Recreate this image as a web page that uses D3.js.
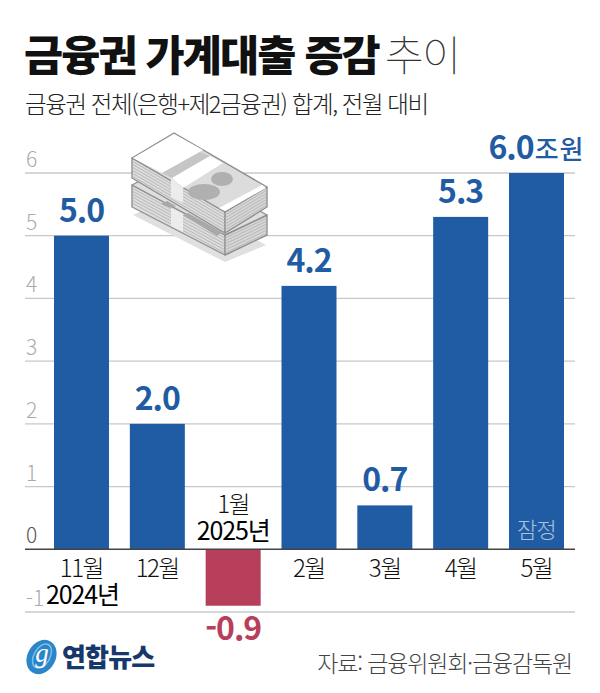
<!DOCTYPE html>
<html lang="ko">
<head>
<meta charset="utf-8">
<script src="https://cdn.jsdelivr.net/npm/d3@7"></script>
<style>
html, body { margin: 0; padding: 0; background: #fff; }
svg { display: block; }
text { font-family: "Noto Sans CJK KR", "Noto Sans", sans-serif; }
</style>
</head>
<body>
<svg id="chart" width="600" height="693"></svg>
<script>
const months = ['11월', '12월', '1월', '2월', '3월', '4월', '5월'];
const values = [5.0, 2.0, -0.9, 4.2, 0.7, 5.3, 6.0];
const valueLabels = ['5.0', '2.0', '-0.9', '4.2', '0.7', '5.3', '6.0'];
const tickValues = [-1, 0, 1, 2, 3, 4, 5, 6];

const blue = '#1f5ca3', red = '#b83f5c', grid = '#c8c8c8';
const svg = d3.select('#chart');

const x = d3.scaleBand().domain(months).range([54, 564]).paddingInner(0.2747).paddingOuter(0);
const y = d3.scaleLinear().domain([-1, 6]).range([612, 173]);
const xMid = d => x(d) + x.bandwidth() / 2;

// title
const title = svg.append('text').attr('x', 24).attr('y', 71)
    .attr('font-size', 42.5).attr('letter-spacing', -1.9);
title.append('tspan').attr('font-weight', 900).attr('fill', '#111').text('금융권 가계대출 증감');
title.append('tspan').attr('dx', 6).attr('font-weight', 100).attr('fill', '#333').text('추이');

svg.append('text').attr('x', 25).attr('y', 113)
    .attr('font-size', 23.5).attr('font-weight', 300).attr('letter-spacing', -1.42).attr('fill', '#222')
    .text('금융권 전체(은행+제2금융권) 합계, 전월 대비');

// grid
svg.append('g').selectAll('line').data(tickValues.filter(d => d !== 0)).join('line')
    .attr('x1', 25).attr('x2', 575)
    .attr('y1', d => y(d)).attr('y2', d => y(d))
    .attr('stroke', grid).attr('stroke-width', 1.3);

svg.append('g').selectAll('text').data(tickValues).join('text')
    .attr('x', 26)
    .attr('y', d => y(d) - 6)
    .attr('font-size', 21).attr('font-weight', 300)
    .attr('fill', d => d === 0 ? '#555' : '#aaa')
    .text(d => d < 0 ? '-' + Math.abs(d) : d);

// money illustration
const money = svg.append('g');
const poly = (pts, fill, stroke) => money.append('polygon')
    .attr('points', pts.join(' ')).attr('fill', fill)
    .attr('stroke', stroke || 'none').attr('stroke-width', 1.4).attr('stroke-linejoin', 'round');
const edge = '#8f8f8f';
poly(['133,215', '174,196', '266,245', '225,262'], '#e0e0e0');
poly(['132,185', '225,235', '225,255', '132,207'], '#dcdcdc', edge);
poly(['225,235', '267,215', '267,235', '225,255'], '#d6d6d6', edge);
poly(['132,185', '174,163', '267,215', '225,235'], '#dedede', edge);
poly(['132,158', '225,212', '225,233', '132,178'], '#dcdcdc', edge);
poly(['225,212', '267,187', '267,207', '225,233'], '#d6d6d6', edge);
const lineGroup = money.append('g').attr('stroke', '#b0b0b0').attr('stroke-width', 0.8);
[3, 6, 9, 12, 15, 18].forEach(d => {
    lineGroup.append('line').attr('x1', 132).attr('y1', 158 + d).attr('x2', 225).attr('y2', 212 + d);
    lineGroup.append('line').attr('x1', 225).attr('y1', 212 + d).attr('x2', 267).attr('y2', 187 + d);
    lineGroup.append('line').attr('x1', 132).attr('y1', 185 + d).attr('x2', 225).attr('y2', 235 + d);
    lineGroup.append('line').attr('x1', 225).attr('y1', 235 + d).attr('x2', 267).attr('y2', 215 + d);
});
poly(['132,158', '174,133', '267,187', '225,212'], '#dcdcdc', edge);
poly(['133,158', '174,134', '203,150', '162,173'], '#fff');
poly(['200,152', '210,156', '172,178', '162,173'], '#c6c6c6');
poly(['210,156', '223,163', '183,188', '172,178'], '#fff');
poly(['262,185', '266,188', '225,211', '219,208'], '#fff');
money.append('ellipse').attr('cx', 222).attr('cy', 179).attr('rx', 11).attr('ry', 7).attr('fill', '#b0b0b0');
money.append('ellipse').attr('cx', 204).attr('cy', 192).attr('rx', 16).attr('ry', 8).attr('fill', '#b0b0b0');
poly(['171,178', '183,188', '183,203', '171,197'], '#ececec');
poly(['171,208', '183,214', '183,232', '171,226'], '#ececec');
poly(['183,215', '188,213', '222,232', '217,236'], '#a8a8a8');
poly(['161,204', '167,201', '176,206', '171,208'], '#a8a8a8');

// bars
svg.append('g').selectAll('rect').data(values).join('rect')
    .attr('x', (d, i) => x(months[i]))
    .attr('width', x.bandwidth())
    .attr('y', d => y(Math.max(0, d)))
    .attr('height', d => Math.abs(y(d) - y(0)))
    .attr('fill', d => d < 0 ? red : blue);

// zero line
svg.append('line').attr('x1', 25).attr('x2', 575).attr('y1', y(0)).attr('y2', y(0))
    .attr('stroke', '#444').attr('stroke-width', 1.4);

// value labels
const valueText = svg.append('g').selectAll('text').data(values).join('text')
    .attr('x', (d, i) => xMid(months[i]))
    .attr('y', d => d < 0 ? y(d) + 34 : y(d) - 14)
    .attr('text-anchor', 'middle')
    .attr('font-size', 32).attr('font-weight', 700).attr('letter-spacing', -1)
    .attr('fill', d => d < 0 ? red : blue)
    .text((d, i) => valueLabels[i]);
valueText.filter((d, i) => i === 6).append('tspan')
    .attr('font-size', 26).attr('font-weight', 500).attr('letter-spacing', 1).attr('dx', 1).text('조원');

// month labels
svg.append('g').selectAll('text').data(months).join('text')
    .attr('x', d => xMid(d))
    .attr('y', d => d === '1월' ? 513 : 577)
    .attr('text-anchor', 'middle')
    .attr('font-size', 24).attr('font-weight', 300).attr('letter-spacing', -1.5).attr('fill', '#111')
    .text(d => d);

const yearLabel = (text, month, yPos) => svg.append('text')
    .attr('x', xMid(month) + (month === '11월' ? 1 : 0)).attr('y', yPos)
    .attr('text-anchor', 'middle')
    .attr('font-size', 25).attr('font-weight', 400).attr('letter-spacing', -1.1).attr('fill', '#000')
    .text(text);
yearLabel('2024년', '11월', 604);
yearLabel('2025년', '1월', 540);

// provisional note
svg.append('text').attr('x', xMid('5월')).attr('y', 538)
    .attr('text-anchor', 'middle').attr('font-size', 22).attr('font-weight', 300)
    .attr('letter-spacing', -0.8).attr('fill', '#a9c2de').text('잠정');

// logo
const logo = svg.append('g');
logo.append('ellipse').attr('cx', 41.5).attr('cy', 657).attr('rx', 14).attr('ry', 18)
    .attr('transform', 'rotate(30 41.5 657)').attr('fill', '#2a86c8');
logo.append('ellipse').attr('cx', 42).attr('cy', 656).attr('rx', 8).attr('ry', 13)
    .attr('transform', 'rotate(30 42 656)').attr('fill', 'none').attr('stroke', '#7fbde6').attr('stroke-width', 1.5);
logo.append('text').attr('x', 42).attr('y', 662).attr('text-anchor', 'middle')
    .style('font-family', '"Liberation Serif", serif')
    .attr('font-size', 27).attr('font-style', 'italic').attr('fill', '#fff').text('g');
logo.append('text').attr('x', 62).attr('y', 667)
    .attr('font-size', 26).attr('font-weight', 900).attr('letter-spacing', -0.8).attr('fill', '#17386b').text('연합뉴스');

// source
svg.append('text').attr('x', 572).attr('y', 672).attr('text-anchor', 'end')
    .attr('font-size', 23).attr('font-weight', 300).attr('letter-spacing', -1.15).attr('fill', '#444')
    .text('자료: 금융위원회·금융감독원');
</script>
</body>
</html>
